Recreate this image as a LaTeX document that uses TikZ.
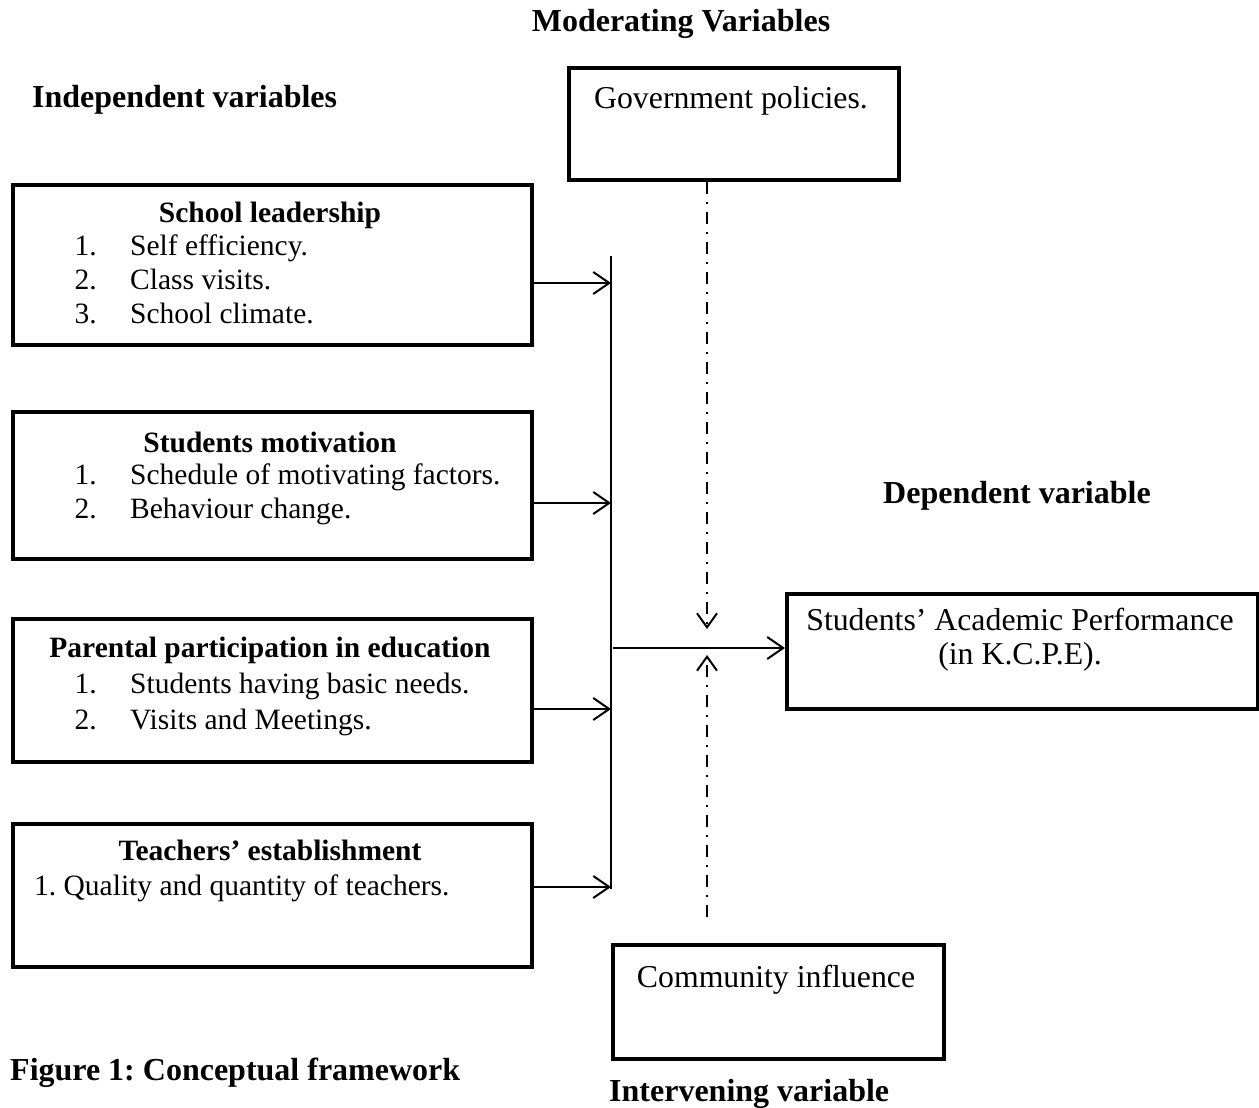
\documentclass[tikz,border=0pt]{standalone}
\usepackage{fontspec}
\setmainfont{Liberation Serif}
\usetikzlibrary{arrows.meta}
\frenchspacing
\begin{document}
\begin{tikzpicture}[x=1pt,y=-1pt,
  box/.style={draw,line width=4pt,inner sep=0pt,anchor=north west},
  txt/.style={inner sep=0pt,font=\fontsize{29.5pt}{35pt}\selectfont},
  rtxt/.style={inner sep=0pt,font=\fontsize{31.8pt}{38pt}\selectfont},
  ttl/.style={inner sep=0pt,font=\fontsize{29.5pt}{35pt}\selectfont\bfseries},
  head/.style={inner sep=0pt,font=\fontsize{32pt}{38pt}\selectfont\bfseries},
  conn/.style={line width=2pt},
  arr/.style={line width=2pt,-{Straight Barb[length=16pt,width=22pt,line width=2pt]}},
  dd/.style={line width=2pt,dash pattern=on 12pt off 8pt on 2pt off 8pt,-{Straight Barb[length=14pt,width=20pt,line width=2pt]}}]
\useasboundingbox (0,0) rectangle (1259,1108);
% headings
\node[head,anchor=base] (hmod) at (681,32) {Moderating Variables};
\node[head,anchor=base west] (hind) at (32,107) {Independent variables};
\node[head,anchor=base west] (hdep) at (883,503) {Dependent variable};
\node[head,anchor=base west] (hfig) at (10,1080) {Figure 1: Conceptual framework};
\node[head,anchor=base west] (hint) at (609,1101) {Intervening variable};
% boxes
\node[box,minimum width=330pt,minimum height=112pt] (gov) at (567,66) {};
\node[rtxt,anchor=base] (govt) at (731,108) {Government policies.};
\node[box,minimum width=519pt,minimum height=160pt] (sl) at (11,183) {};
\node[ttl,anchor=base] (slt) at (270,222) {School leadership};
\node[txt,anchor=base east] (sl1n) at (97,255) {1.};
\node[txt,anchor=base west] (sl1) at (130,255) {Self efficiency.};
\node[txt,anchor=base east] (sl2n) at (97,289) {2.};
\node[txt,anchor=base west] (sl2) at (130,289) {Class visits.};
\node[txt,anchor=base east] (sl3n) at (97,323) {3.};
\node[txt,anchor=base west] (sl3) at (130,323) {School climate.};
\node[box,minimum width=519pt,minimum height=147pt] (sm) at (11,410) {};
\node[ttl,anchor=base] (smt) at (270,452) {Students motivation};
\node[txt,anchor=base east] (sm1n) at (97,484) {1.};
\node[txt,anchor=base west] (sm1) at (130,484) {Schedule of motivating factors.};
\node[txt,anchor=base east] (sm2n) at (97,518) {2.};
\node[txt,anchor=base west] (sm2) at (130,518) {Behaviour change.};
\node[box,minimum width=519pt,minimum height=143pt] (pp) at (11,617) {};
\node[ttl,anchor=base] (ppt) at (270,657) {Parental participation in education};
\node[txt,anchor=base east] (pp1n) at (97,693) {1.};
\node[txt,anchor=base west] (pp1) at (130,693) {Students having basic needs.};
\node[txt,anchor=base east] (pp2n) at (97,729) {2.};
\node[txt,anchor=base west] (pp2) at (130,729) {Visits and Meetings.};
\node[box,minimum width=519pt,minimum height=143pt] (te) at (11,822) {};
\node[ttl,anchor=base] (tet) at (270,860) {Teachers’ establishment};
\node[txt,anchor=base west] (te1) at (34,895) {1. Quality and quantity of teachers.};
\node[box,minimum width=331pt,minimum height=114pt] (ci) at (611,943) {};
\node[rtxt,anchor=base] (cit) at (776,987) {Community influence};
\node[box,minimum width=471pt,minimum height=115pt] (sap) at (785,592) {};
\node[rtxt,anchor=base] (sap1) at (1020,630) {Students’ Academic Performance};
\node[rtxt,anchor=base] (sap2) at (1020,664) {(in K.C.P.E).};
% connectors
\coordinate (bt) at (611,256);
\coordinate (bb) at (611,889);
\draw[conn] (bt) -- (bb);
\coordinate (j1) at (611,283);
\coordinate (j2) at (611,503);
\coordinate (j3) at (611,709);
\coordinate (j4) at (611,887);
\draw[arr] (sl.east |- j1) -- (j1);
\draw[arr] (sm.east |- j2) -- (j2);
\draw[arr] (pp.east |- j3) -- (j3);
\draw[arr] (te.east |- j4) -- (j4);
\coordinate (ms) at (613,648);
\draw[arr] (ms) -- (sap.west |- ms);
\coordinate (dt) at (707,629);
\draw[dd] (dt |- gov.south) -- (dt);
\coordinate (db0) at (707,917);
\coordinate (db) at (707,655);
\draw[dd] (db0) -- (db);
\end{tikzpicture}
\end{document}
